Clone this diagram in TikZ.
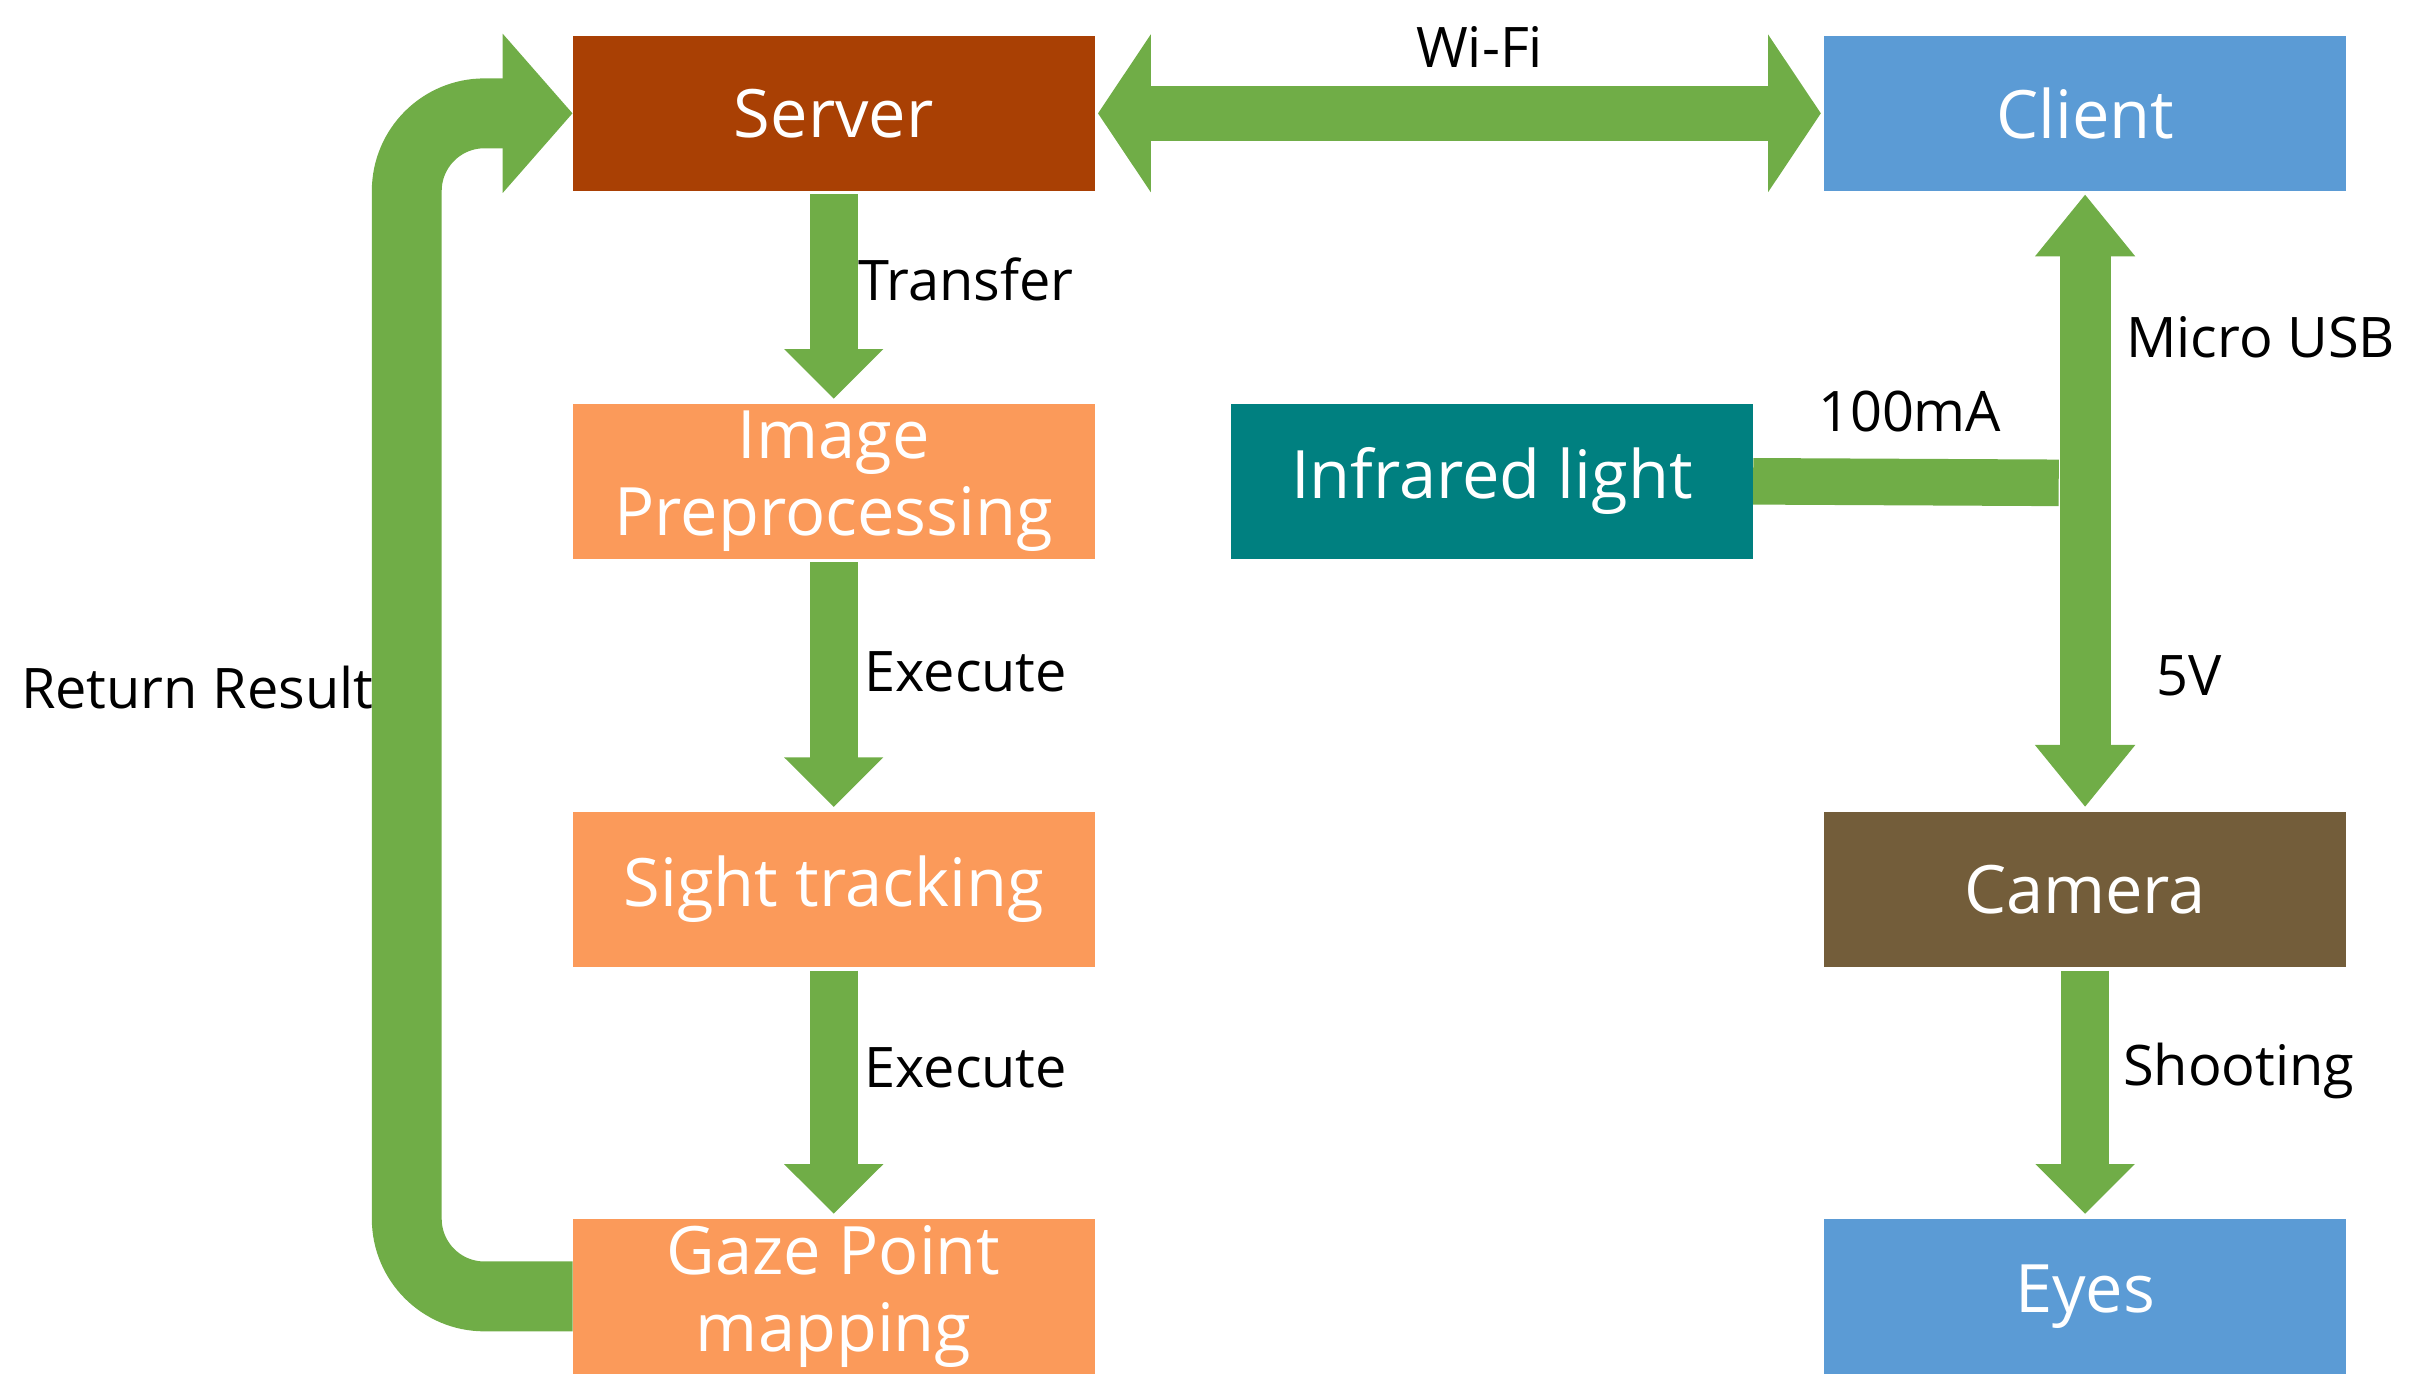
\documentclass[tikz,border=0pt]{standalone}
\usepackage{fontspec}
\setmainfont{Open Sans}
\usetikzlibrary{arrows.meta}
\definecolor{grn}{HTML}{70AD47}
\definecolor{srvc}{HTML}{A94004}
\definecolor{blu}{HTML}{5B9BD5}
\definecolor{org}{HTML}{FB9A5A}
\definecolor{teal2}{HTML}{008080}
\definecolor{cam}{HTML}{735D3A}
\begin{document}
\begin{tikzpicture}[x=1pt,y=-1pt,
  box/.style={minimum width=336pt,minimum height=100pt,inner sep=0pt,text=white,
    align=center,font=\fontsize{43}{50}\selectfont},
  lbl/.style={font=\fontsize{36}{40}\selectfont,inner sep=0pt},
  flow/.style={grn,line width=31pt,-{Triangle[width=62pt,length=32pt]}},
  bflow/.style={grn,line width=33pt,{Triangle[width=62pt,length=40pt]}-{Triangle[width=62pt,length=40pt]}}]
\useasboundingbox (0,0) rectangle (1560,896);
\node[box,fill=srvc] (srv) at (537,73) {Server};
\node[box,fill=blu] (cli) at (1343,73) {Client};
\node[box,fill=org] (img) at (537,310) {Image\\Preprocessing};
\node[box,fill=teal2] (ir) at (961,310) {Infrared light};
\node[box,fill=org] (sig) at (537,573) {Sight tracking};
\node[box,fill=cam] (cam) at (1343,573) {Camera};
\node[box,fill=org] (gaze) at (537,835) {Gaze Point\\mapping};
\node[box,fill=blu] (eye) at (1343,835) {Eyes};
\draw[flow,shorten <=2pt,shorten >=3pt] (srv.south) -- (img.north);
\draw[flow,shorten <=2pt,shorten >=3pt] (img.south) -- (sig.north);
\draw[flow,shorten <=2pt,shorten >=3pt] (sig.south) -- (gaze.north);
\draw[flow,shorten <=2pt,shorten >=3pt] (cam.south) -- (eye.north);
\draw[grn,line width=35pt,{Triangle[width=100pt,length=34pt]}-{Triangle[width=100pt,length=34pt]},shorten <=2pt,shorten >=2pt] (srv.east) -- (cli.west);
\draw[bflow,shorten <=2pt,shorten >=3pt] (cli.south) -- (cam.north);
\coordinate (j) at (1326,311);
\draw[grn,line width=30pt] (ir.east) -- (j);
\draw[grn,line width=45pt,rounded corners=50pt,-{Triangle[width=100pt,length=45pt]}]
  (gaze.west) -- (262,835) -- (262,73) -- (srv.west);
\node[lbl] (t1) at (622,180) {Transfer};
\node[lbl] (t2) at (622,433) {Execute};
\node[lbl] (t3) at (622,688) {Execute};
\node[lbl] (t4) at (953,30) {Wi-Fi};
\node[lbl] (t5) at (1456,217) {Micro USB};
\node[lbl] (t6) at (1230,265) {100mA};
\node[lbl] (t7) at (1410,435) {5V};
\node[lbl] (t8) at (1442,690) {Shooting};
\node[lbl] (t9) at (127,443) {Return Result};
\end{tikzpicture}
\end{document}
